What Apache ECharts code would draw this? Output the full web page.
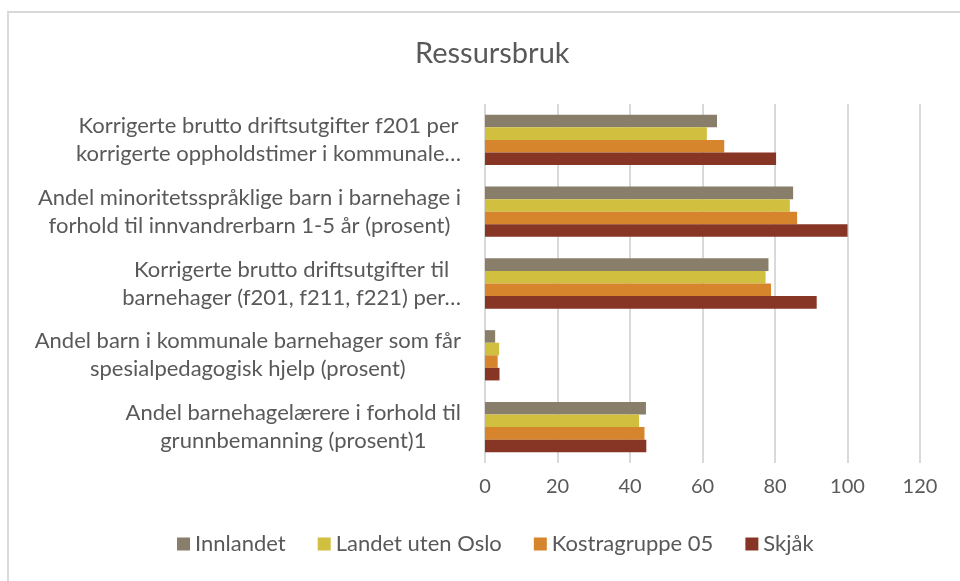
<!DOCTYPE html>
<html>
<head>
<meta charset="utf-8">
<script src="https://cdn.jsdelivr.net/npm/echarts@6/dist/echarts.min.js"></script>
<style>
    body { margin: 0; background: #fff; }
    #frame {
        position: absolute;
        left: 7px;
        top: 11px;
        width: 1000px;
        height: 1000px;
        border: 2px solid #d9d9d9;
    }
    #chart {
        position: absolute;
        left: 0;
        top: 0;
        width: 960px;
        height: 581px;
    }
</style>
</head>
<body>
<div id="frame"></div>
<div id="chart"></div>
<script>
    // kategorier (ovenfra og ned, som i figuren)
    var categories = [
        'Korrigerte brutto driftsutgifter f201 per\nkorrigerte oppholdstimer i kommunale…',
        'Andel minoritetsspråklige barn i barnehage i\nforhold til innvandrerbarn 1-5 år (prosent)',
        'Korrigerte brutto driftsutgifter til\nbarnehager (f201, f211, f221) per…',
        'Andel barn i kommunale barnehager som får\nspesialpedagogisk hjelp (prosent)',
        'Andel barnehagelærere i forhold til\ngrunnbemanning (prosent)1'
    ];
    var series_names = ['Innlandet', 'Landet uten Oslo', 'Kostragruppe 05', 'Skjåk'];
    var innlandet = [64.0, 85.0, 78.2, 2.8, 44.4];
    var landet_uten_oslo = [61.2, 84.1, 77.4, 3.9, 42.5];
    var kostragruppe_05 = [66.0, 86.1, 78.9, 3.5, 44.0];
    var skjak = [80.3, 100, 91.5, 4.0, 44.5];
    var x_ticks = [0, 20, 40, 60, 80, 100, 120];

    var colors = ['#887e6a', '#d1bf40', '#d6852d', '#873524'];
    var font = 'Lato, "Open Sans", sans-serif';

    var myChart = echarts.init(document.getElementById('chart'), null, {renderer: 'canvas'});

    var values = [innlandet, landet_uten_oslo, kostragruppe_05, skjak];
    var series = [];
    for (var i = 0; i < series_names.length; i++) {
        series.push({
            name: series_names[i],
            type: 'bar',
            data: values[i],
            barGap: '0%',
            barCategoryGap: '30%',
            itemStyle: {color: colors[i]}
        });
    }

    var option = {
        animation: false,
        textStyle: {fontFamily: font},
        color: colors,
        title: {
            text: 'Ressursbruk',
            left: 410,
            top: 34,
            textStyle: {fontFamily: font, fontSize: 29, fontWeight: 'normal', color: '#595959'}
        },
        legend: {
            data: series_names,
            bottom: 21,
            left: 172,
            icon: 'rect',
            itemWidth: 13,
            itemHeight: 13,
            itemGap: 32,
            textStyle: {fontFamily: font, fontSize: 22, color: '#595959'}
        },
        grid: {left: 485, right: 40, top: 104, bottom: 118, containLabel: false},
        xAxis: {
            type: 'value',
            min: x_ticks[0],
            max: x_ticks[x_ticks.length - 1],
            interval: 20,
            axisLine: {show: false},
            axisTick: {show: false},
            axisLabel: {fontFamily: font, fontSize: 20, color: '#595959', margin: 14},
            splitLine: {lineStyle: {color: '#d9d9d9', width: 2}}
        },
        yAxis: {
            type: 'category',
            data: categories,
            inverse: true,
            axisLine: {show: false},
            axisTick: {show: false},
            axisLabel: {
                fontFamily: font,
                fontSize: 22,
                color: '#595959',
                margin: 24,
                lineHeight: 28,
                align: 'right',
                formatter: function (v) {
                    return v.split('\n').map(function (s) { return '{c|' + s + '}'; }).join('\n');
                },
                rich: {c: {align: 'center', fontFamily: font, fontSize: 22, color: '#595959', lineHeight: 28}}
            }
        },
        series: series
    };
    myChart.setOption(option);
</script>
</body>
</html>
